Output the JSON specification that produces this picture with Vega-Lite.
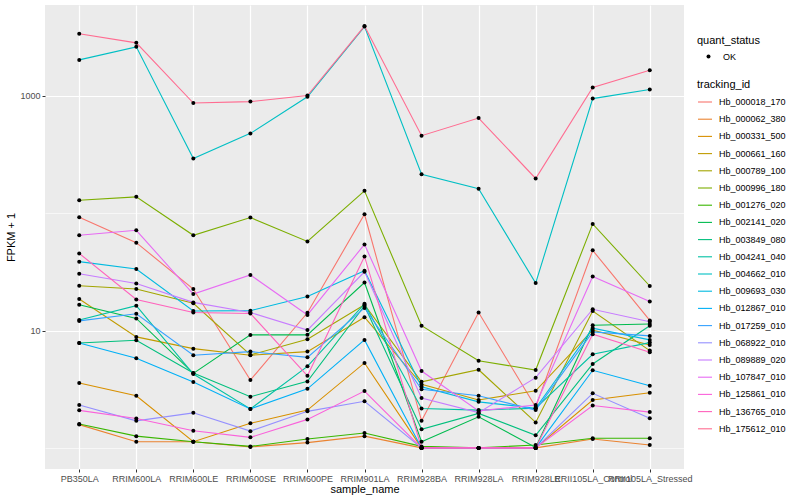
{
"$schema": "https://vega.github.io/schema/vega-lite/v6.json",
"width": 639, "height": 464,
"autosize": "none",
"padding": {"left": 45, "top": 5, "right": 116, "bottom": 31},
"background": "white",
"config": {
  "font": "Liberation Sans",
  "view": {"fill": "#EBEBEB", "stroke": null},
  "axis": {"domain": false, "grid": true, "gridColor": "#FFFFFF", "tickColor": "#333333", "tickSize": 3, "labelColor": "#4D4D4D", "labelFontSize": 9, "titleFontSize": 11, "titleFontWeight": "normal", "titleColor": "#000000", "labelPadding": 2},
  "legend": {"titleFontSize": 11, "titleFontWeight": "normal", "titleColor": "#000000", "labelFontSize": 9, "labelColor": "#000000"}
},
"data": {"values": [
{"tracking_id":"Hb_000018_170","sample_name":"PB350LA","fpkm_1":92.4,"quant_status":"OK"},
{"tracking_id":"Hb_000018_170","sample_name":"RRIM600LA","fpkm_1":56.2,"quant_status":"OK"},
{"tracking_id":"Hb_000018_170","sample_name":"RRIM600LE","fpkm_1":22.6,"quant_status":"OK"},
{"tracking_id":"Hb_000018_170","sample_name":"RRIM600SE","fpkm_1":3.79,"quant_status":"OK"},
{"tracking_id":"Hb_000018_170","sample_name":"RRIM600PE","fpkm_1":14.2,"quant_status":"OK"},
{"tracking_id":"Hb_000018_170","sample_name":"RRIM901LA","fpkm_1":98.1,"quant_status":"OK"},
{"tracking_id":"Hb_000018_170","sample_name":"RRIM928BA","fpkm_1":1.70,"quant_status":"OK"},
{"tracking_id":"Hb_000018_170","sample_name":"RRIM928LA","fpkm_1":14.25,"quant_status":"OK"},
{"tracking_id":"Hb_000018_170","sample_name":"RRIM928LE","fpkm_1":2.23,"quant_status":"OK"},
{"tracking_id":"Hb_000018_170","sample_name":"RRII105LA_Control","fpkm_1":48.3,"quant_status":"OK"},
{"tracking_id":"Hb_000018_170","sample_name":"RRII105LA_Stressed","fpkm_1":12.2,"quant_status":"OK"},
{"tracking_id":"Hb_000062_380","sample_name":"PB350LA","fpkm_1":1.58,"quant_status":"OK"},
{"tracking_id":"Hb_000062_380","sample_name":"RRIM600LA","fpkm_1":1.13,"quant_status":"OK"},
{"tracking_id":"Hb_000062_380","sample_name":"RRIM600LE","fpkm_1":1.13,"quant_status":"OK"},
{"tracking_id":"Hb_000062_380","sample_name":"RRIM600SE","fpkm_1":1.02,"quant_status":"OK"},
{"tracking_id":"Hb_000062_380","sample_name":"RRIM600PE","fpkm_1":1.11,"quant_status":"OK"},
{"tracking_id":"Hb_000062_380","sample_name":"RRIM901LA","fpkm_1":1.26,"quant_status":"OK"},
{"tracking_id":"Hb_000062_380","sample_name":"RRIM928BA","fpkm_1":1.0,"quant_status":"OK"},
{"tracking_id":"Hb_000062_380","sample_name":"RRIM928LA","fpkm_1":1.0,"quant_status":"OK"},
{"tracking_id":"Hb_000062_380","sample_name":"RRIM928LE","fpkm_1":1.0,"quant_status":"OK"},
{"tracking_id":"Hb_000062_380","sample_name":"RRII105LA_Control","fpkm_1":1.19,"quant_status":"OK"},
{"tracking_id":"Hb_000062_380","sample_name":"RRII105LA_Stressed","fpkm_1":1.06,"quant_status":"OK"},
{"tracking_id":"Hb_000331_500","sample_name":"PB350LA","fpkm_1":3.57,"quant_status":"OK"},
{"tracking_id":"Hb_000331_500","sample_name":"RRIM600LA","fpkm_1":2.78,"quant_status":"OK"},
{"tracking_id":"Hb_000331_500","sample_name":"RRIM600LE","fpkm_1":1.13,"quant_status":"OK"},
{"tracking_id":"Hb_000331_500","sample_name":"RRIM600SE","fpkm_1":1.62,"quant_status":"OK"},
{"tracking_id":"Hb_000331_500","sample_name":"RRIM600PE","fpkm_1":2.10,"quant_status":"OK"},
{"tracking_id":"Hb_000331_500","sample_name":"RRIM901LA","fpkm_1":5.30,"quant_status":"OK"},
{"tracking_id":"Hb_000331_500","sample_name":"RRIM928BA","fpkm_1":1.0,"quant_status":"OK"},
{"tracking_id":"Hb_000331_500","sample_name":"RRIM928LA","fpkm_1":1.0,"quant_status":"OK"},
{"tracking_id":"Hb_000331_500","sample_name":"RRIM928LE","fpkm_1":1.0,"quant_status":"OK"},
{"tracking_id":"Hb_000331_500","sample_name":"RRII105LA_Control","fpkm_1":2.56,"quant_status":"OK"},
{"tracking_id":"Hb_000331_500","sample_name":"RRII105LA_Stressed","fpkm_1":2.95,"quant_status":"OK"},
{"tracking_id":"Hb_000661_160","sample_name":"PB350LA","fpkm_1":18.6,"quant_status":"OK"},
{"tracking_id":"Hb_000661_160","sample_name":"RRIM600LA","fpkm_1":8.84,"quant_status":"OK"},
{"tracking_id":"Hb_000661_160","sample_name":"RRIM600LE","fpkm_1":7.02,"quant_status":"OK"},
{"tracking_id":"Hb_000661_160","sample_name":"RRIM600SE","fpkm_1":6.16,"quant_status":"OK"},
{"tracking_id":"Hb_000661_160","sample_name":"RRIM600PE","fpkm_1":6.62,"quant_status":"OK"},
{"tracking_id":"Hb_000661_160","sample_name":"RRIM901LA","fpkm_1":13.0,"quant_status":"OK"},
{"tracking_id":"Hb_000661_160","sample_name":"RRIM928BA","fpkm_1":3.48,"quant_status":"OK"},
{"tracking_id":"Hb_000661_160","sample_name":"RRIM928LA","fpkm_1":2.56,"quant_status":"OK"},
{"tracking_id":"Hb_000661_160","sample_name":"RRIM928LE","fpkm_1":3.07,"quant_status":"OK"},
{"tracking_id":"Hb_000661_160","sample_name":"RRII105LA_Control","fpkm_1":10.1,"quant_status":"OK"},
{"tracking_id":"Hb_000661_160","sample_name":"RRII105LA_Stressed","fpkm_1":7.55,"quant_status":"OK"},
{"tracking_id":"Hb_000789_100","sample_name":"PB350LA","fpkm_1":24.1,"quant_status":"OK"},
{"tracking_id":"Hb_000789_100","sample_name":"RRIM600LA","fpkm_1":22.6,"quant_status":"OK"},
{"tracking_id":"Hb_000789_100","sample_name":"RRIM600LE","fpkm_1":17.1,"quant_status":"OK"},
{"tracking_id":"Hb_000789_100","sample_name":"RRIM600SE","fpkm_1":6.20,"quant_status":"OK"},
{"tracking_id":"Hb_000789_100","sample_name":"RRIM600PE","fpkm_1":8.44,"quant_status":"OK"},
{"tracking_id":"Hb_000789_100","sample_name":"RRIM901LA","fpkm_1":16.6,"quant_status":"OK"},
{"tracking_id":"Hb_000789_100","sample_name":"RRIM928BA","fpkm_1":3.66,"quant_status":"OK"},
{"tracking_id":"Hb_000789_100","sample_name":"RRIM928LA","fpkm_1":4.64,"quant_status":"OK"},
{"tracking_id":"Hb_000789_100","sample_name":"RRIM928LE","fpkm_1":1.65,"quant_status":"OK"},
{"tracking_id":"Hb_000789_100","sample_name":"RRII105LA_Control","fpkm_1":14.7,"quant_status":"OK"},
{"tracking_id":"Hb_000789_100","sample_name":"RRII105LA_Stressed","fpkm_1":6.75,"quant_status":"OK"},
{"tracking_id":"Hb_000996_180","sample_name":"PB350LA","fpkm_1":129.2,"quant_status":"OK"},
{"tracking_id":"Hb_000996_180","sample_name":"RRIM600LA","fpkm_1":138.1,"quant_status":"OK"},
{"tracking_id":"Hb_000996_180","sample_name":"RRIM600LE","fpkm_1":64.9,"quant_status":"OK"},
{"tracking_id":"Hb_000996_180","sample_name":"RRIM600SE","fpkm_1":91.9,"quant_status":"OK"},
{"tracking_id":"Hb_000996_180","sample_name":"RRIM600PE","fpkm_1":57.6,"quant_status":"OK"},
{"tracking_id":"Hb_000996_180","sample_name":"RRIM901LA","fpkm_1":155.4,"quant_status":"OK"},
{"tracking_id":"Hb_000996_180","sample_name":"RRIM928BA","fpkm_1":11.0,"quant_status":"OK"},
{"tracking_id":"Hb_000996_180","sample_name":"RRIM928LA","fpkm_1":5.54,"quant_status":"OK"},
{"tracking_id":"Hb_000996_180","sample_name":"RRIM928LE","fpkm_1":4.61,"quant_status":"OK"},
{"tracking_id":"Hb_000996_180","sample_name":"RRII105LA_Control","fpkm_1":81.2,"quant_status":"OK"},
{"tracking_id":"Hb_000996_180","sample_name":"RRII105LA_Stressed","fpkm_1":24.0,"quant_status":"OK"},
{"tracking_id":"Hb_001276_020","sample_name":"PB350LA","fpkm_1":1.60,"quant_status":"OK"},
{"tracking_id":"Hb_001276_020","sample_name":"RRIM600LA","fpkm_1":1.26,"quant_status":"OK"},
{"tracking_id":"Hb_001276_020","sample_name":"RRIM600LE","fpkm_1":1.13,"quant_status":"OK"},
{"tracking_id":"Hb_001276_020","sample_name":"RRIM600SE","fpkm_1":1.03,"quant_status":"OK"},
{"tracking_id":"Hb_001276_020","sample_name":"RRIM600PE","fpkm_1":1.19,"quant_status":"OK"},
{"tracking_id":"Hb_001276_020","sample_name":"RRIM901LA","fpkm_1":1.34,"quant_status":"OK"},
{"tracking_id":"Hb_001276_020","sample_name":"RRIM928BA","fpkm_1":1.03,"quant_status":"OK"},
{"tracking_id":"Hb_001276_020","sample_name":"RRIM928LA","fpkm_1":1.0,"quant_status":"OK"},
{"tracking_id":"Hb_001276_020","sample_name":"RRIM928LE","fpkm_1":1.06,"quant_status":"OK"},
{"tracking_id":"Hb_001276_020","sample_name":"RRII105LA_Control","fpkm_1":1.21,"quant_status":"OK"},
{"tracking_id":"Hb_001276_020","sample_name":"RRII105LA_Stressed","fpkm_1":1.21,"quant_status":"OK"},
{"tracking_id":"Hb_002141_020","sample_name":"PB350LA","fpkm_1":16.6,"quant_status":"OK"},
{"tracking_id":"Hb_002141_020","sample_name":"RRIM600LA","fpkm_1":12.7,"quant_status":"OK"},
{"tracking_id":"Hb_002141_020","sample_name":"RRIM600LE","fpkm_1":4.32,"quant_status":"OK"},
{"tracking_id":"Hb_002141_020","sample_name":"RRIM600SE","fpkm_1":9.19,"quant_status":"OK"},
{"tracking_id":"Hb_002141_020","sample_name":"RRIM600PE","fpkm_1":9.2,"quant_status":"OK"},
{"tracking_id":"Hb_002141_020","sample_name":"RRIM901LA","fpkm_1":25.7,"quant_status":"OK"},
{"tracking_id":"Hb_002141_020","sample_name":"RRIM928BA","fpkm_1":1.13,"quant_status":"OK"},
{"tracking_id":"Hb_002141_020","sample_name":"RRIM928LA","fpkm_1":1.84,"quant_status":"OK"},
{"tracking_id":"Hb_002141_020","sample_name":"RRIM928LE","fpkm_1":1.01,"quant_status":"OK"},
{"tracking_id":"Hb_002141_020","sample_name":"RRII105LA_Control","fpkm_1":11.1,"quant_status":"OK"},
{"tracking_id":"Hb_002141_020","sample_name":"RRII105LA_Stressed","fpkm_1":11.4,"quant_status":"OK"},
{"tracking_id":"Hb_003849_080","sample_name":"PB350LA","fpkm_1":7.85,"quant_status":"OK"},
{"tracking_id":"Hb_003849_080","sample_name":"RRIM600LA","fpkm_1":8.28,"quant_status":"OK"},
{"tracking_id":"Hb_003849_080","sample_name":"RRIM600LE","fpkm_1":4.35,"quant_status":"OK"},
{"tracking_id":"Hb_003849_080","sample_name":"RRIM600SE","fpkm_1":2.73,"quant_status":"OK"},
{"tracking_id":"Hb_003849_080","sample_name":"RRIM600PE","fpkm_1":3.69,"quant_status":"OK"},
{"tracking_id":"Hb_003849_080","sample_name":"RRIM901LA","fpkm_1":16.3,"quant_status":"OK"},
{"tracking_id":"Hb_003849_080","sample_name":"RRIM928BA","fpkm_1":1.44,"quant_status":"OK"},
{"tracking_id":"Hb_003849_080","sample_name":"RRIM928LA","fpkm_1":1.97,"quant_status":"OK"},
{"tracking_id":"Hb_003849_080","sample_name":"RRIM928LE","fpkm_1":1.28,"quant_status":"OK"},
{"tracking_id":"Hb_003849_080","sample_name":"RRII105LA_Control","fpkm_1":5.19,"quant_status":"OK"},
{"tracking_id":"Hb_003849_080","sample_name":"RRII105LA_Stressed","fpkm_1":11.0,"quant_status":"OK"},
{"tracking_id":"Hb_004241_040","sample_name":"PB350LA","fpkm_1":12.3,"quant_status":"OK"},
{"tracking_id":"Hb_004241_040","sample_name":"RRIM600LA","fpkm_1":16.3,"quant_status":"OK"},
{"tracking_id":"Hb_004241_040","sample_name":"RRIM600LE","fpkm_1":4.26,"quant_status":"OK"},
{"tracking_id":"Hb_004241_040","sample_name":"RRIM600SE","fpkm_1":2.15,"quant_status":"OK"},
{"tracking_id":"Hb_004241_040","sample_name":"RRIM600PE","fpkm_1":4.96,"quant_status":"OK"},
{"tracking_id":"Hb_004241_040","sample_name":"RRIM901LA","fpkm_1":16.9,"quant_status":"OK"},
{"tracking_id":"Hb_004241_040","sample_name":"RRIM928BA","fpkm_1":2.17,"quant_status":"OK"},
{"tracking_id":"Hb_004241_040","sample_name":"RRIM928LA","fpkm_1":2.10,"quant_status":"OK"},
{"tracking_id":"Hb_004241_040","sample_name":"RRIM928LE","fpkm_1":2.18,"quant_status":"OK"},
{"tracking_id":"Hb_004241_040","sample_name":"RRII105LA_Control","fpkm_1":6.28,"quant_status":"OK"},
{"tracking_id":"Hb_004241_040","sample_name":"RRII105LA_Stressed","fpkm_1":7.90,"quant_status":"OK"},
{"tracking_id":"Hb_004662_010","sample_name":"PB350LA","fpkm_1":2031,"quant_status":"OK"},
{"tracking_id":"Hb_004662_010","sample_name":"RRIM600LA","fpkm_1":2623,"quant_status":"OK"},
{"tracking_id":"Hb_004662_010","sample_name":"RRIM600LE","fpkm_1":293,"quant_status":"OK"},
{"tracking_id":"Hb_004662_010","sample_name":"RRIM600SE","fpkm_1":480,"quant_status":"OK"},
{"tracking_id":"Hb_004662_010","sample_name":"RRIM600PE","fpkm_1":984,"quant_status":"OK"},
{"tracking_id":"Hb_004662_010","sample_name":"RRIM901LA","fpkm_1":3904,"quant_status":"OK"},
{"tracking_id":"Hb_004662_010","sample_name":"RRIM928BA","fpkm_1":215,"quant_status":"OK"},
{"tracking_id":"Hb_004662_010","sample_name":"RRIM928LA","fpkm_1":162,"quant_status":"OK"},
{"tracking_id":"Hb_004662_010","sample_name":"RRIM928LE","fpkm_1":25.4,"quant_status":"OK"},
{"tracking_id":"Hb_004662_010","sample_name":"RRII105LA_Control","fpkm_1":950,"quant_status":"OK"},
{"tracking_id":"Hb_004662_010","sample_name":"RRII105LA_Stressed","fpkm_1":1134,"quant_status":"OK"},
{"tracking_id":"Hb_009693_030","sample_name":"PB350LA","fpkm_1":38.7,"quant_status":"OK"},
{"tracking_id":"Hb_009693_030","sample_name":"RRIM600LA","fpkm_1":33.5,"quant_status":"OK"},
{"tracking_id":"Hb_009693_030","sample_name":"RRIM600LE","fpkm_1":14.7,"quant_status":"OK"},
{"tracking_id":"Hb_009693_030","sample_name":"RRIM600SE","fpkm_1":14.8,"quant_status":"OK"},
{"tracking_id":"Hb_009693_030","sample_name":"RRIM600PE","fpkm_1":19.5,"quant_status":"OK"},
{"tracking_id":"Hb_009693_030","sample_name":"RRIM901LA","fpkm_1":32.4,"quant_status":"OK"},
{"tracking_id":"Hb_009693_030","sample_name":"RRIM928BA","fpkm_1":3.32,"quant_status":"OK"},
{"tracking_id":"Hb_009693_030","sample_name":"RRIM928LA","fpkm_1":2.47,"quant_status":"OK"},
{"tracking_id":"Hb_009693_030","sample_name":"RRIM928LE","fpkm_1":2.18,"quant_status":"OK"},
{"tracking_id":"Hb_009693_030","sample_name":"RRII105LA_Control","fpkm_1":10.5,"quant_status":"OK"},
{"tracking_id":"Hb_009693_030","sample_name":"RRII105LA_Stressed","fpkm_1":8.33,"quant_status":"OK"},
{"tracking_id":"Hb_012867_010","sample_name":"PB350LA","fpkm_1":7.85,"quant_status":"OK"},
{"tracking_id":"Hb_012867_010","sample_name":"RRIM600LA","fpkm_1":5.81,"quant_status":"OK"},
{"tracking_id":"Hb_012867_010","sample_name":"RRIM600LE","fpkm_1":3.64,"quant_status":"OK"},
{"tracking_id":"Hb_012867_010","sample_name":"RRIM600SE","fpkm_1":2.15,"quant_status":"OK"},
{"tracking_id":"Hb_012867_010","sample_name":"RRIM600PE","fpkm_1":3.19,"quant_status":"OK"},
{"tracking_id":"Hb_012867_010","sample_name":"RRIM901LA","fpkm_1":8.33,"quant_status":"OK"},
{"tracking_id":"Hb_012867_010","sample_name":"RRIM928BA","fpkm_1":1.0,"quant_status":"OK"},
{"tracking_id":"Hb_012867_010","sample_name":"RRIM928LA","fpkm_1":1.0,"quant_status":"OK"},
{"tracking_id":"Hb_012867_010","sample_name":"RRIM928LE","fpkm_1":1.0,"quant_status":"OK"},
{"tracking_id":"Hb_012867_010","sample_name":"RRII105LA_Control","fpkm_1":4.59,"quant_status":"OK"},
{"tracking_id":"Hb_012867_010","sample_name":"RRII105LA_Stressed","fpkm_1":3.39,"quant_status":"OK"},
{"tracking_id":"Hb_017259_010","sample_name":"PB350LA","fpkm_1":12.1,"quant_status":"OK"},
{"tracking_id":"Hb_017259_010","sample_name":"RRIM600LA","fpkm_1":13.9,"quant_status":"OK"},
{"tracking_id":"Hb_017259_010","sample_name":"RRIM600LE","fpkm_1":6.16,"quant_status":"OK"},
{"tracking_id":"Hb_017259_010","sample_name":"RRIM600SE","fpkm_1":6.62,"quant_status":"OK"},
{"tracking_id":"Hb_017259_010","sample_name":"RRIM600PE","fpkm_1":5.92,"quant_status":"OK"},
{"tracking_id":"Hb_017259_010","sample_name":"RRIM901LA","fpkm_1":15.6,"quant_status":"OK"},
{"tracking_id":"Hb_017259_010","sample_name":"RRIM928BA","fpkm_1":3.16,"quant_status":"OK"},
{"tracking_id":"Hb_017259_010","sample_name":"RRIM928LA","fpkm_1":2.78,"quant_status":"OK"},
{"tracking_id":"Hb_017259_010","sample_name":"RRIM928LE","fpkm_1":2.10,"quant_status":"OK"},
{"tracking_id":"Hb_017259_010","sample_name":"RRII105LA_Control","fpkm_1":9.75,"quant_status":"OK"},
{"tracking_id":"Hb_017259_010","sample_name":"RRII105LA_Stressed","fpkm_1":9.01,"quant_status":"OK"},
{"tracking_id":"Hb_068922_010","sample_name":"PB350LA","fpkm_1":2.32,"quant_status":"OK"},
{"tracking_id":"Hb_068922_010","sample_name":"RRIM600LA","fpkm_1":1.70,"quant_status":"OK"},
{"tracking_id":"Hb_068922_010","sample_name":"RRIM600LE","fpkm_1":1.99,"quant_status":"OK"},
{"tracking_id":"Hb_068922_010","sample_name":"RRIM600SE","fpkm_1":1.39,"quant_status":"OK"},
{"tracking_id":"Hb_068922_010","sample_name":"RRIM600PE","fpkm_1":2.05,"quant_status":"OK"},
{"tracking_id":"Hb_068922_010","sample_name":"RRIM901LA","fpkm_1":2.5,"quant_status":"OK"},
{"tracking_id":"Hb_068922_010","sample_name":"RRIM928BA","fpkm_1":1.0,"quant_status":"OK"},
{"tracking_id":"Hb_068922_010","sample_name":"RRIM928LA","fpkm_1":1.0,"quant_status":"OK"},
{"tracking_id":"Hb_068922_010","sample_name":"RRIM928LE","fpkm_1":1.0,"quant_status":"OK"},
{"tracking_id":"Hb_068922_010","sample_name":"RRII105LA_Control","fpkm_1":2.92,"quant_status":"OK"},
{"tracking_id":"Hb_068922_010","sample_name":"RRII105LA_Stressed","fpkm_1":1.79,"quant_status":"OK"},
{"tracking_id":"Hb_089889_020","sample_name":"PB350LA","fpkm_1":30.5,"quant_status":"OK"},
{"tracking_id":"Hb_089889_020","sample_name":"RRIM600LA","fpkm_1":25.2,"quant_status":"OK"},
{"tracking_id":"Hb_089889_020","sample_name":"RRIM600LE","fpkm_1":17.4,"quant_status":"OK"},
{"tracking_id":"Hb_089889_020","sample_name":"RRIM600SE","fpkm_1":14.25,"quant_status":"OK"},
{"tracking_id":"Hb_089889_020","sample_name":"RRIM600PE","fpkm_1":10.1,"quant_status":"OK"},
{"tracking_id":"Hb_089889_020","sample_name":"RRIM901LA","fpkm_1":31.7,"quant_status":"OK"},
{"tracking_id":"Hb_089889_020","sample_name":"RRIM928BA","fpkm_1":2.66,"quant_status":"OK"},
{"tracking_id":"Hb_089889_020","sample_name":"RRIM928LA","fpkm_1":2.0,"quant_status":"OK"},
{"tracking_id":"Hb_089889_020","sample_name":"RRIM928LE","fpkm_1":3.97,"quant_status":"OK"},
{"tracking_id":"Hb_089889_020","sample_name":"RRII105LA_Control","fpkm_1":15.2,"quant_status":"OK"},
{"tracking_id":"Hb_089889_020","sample_name":"RRII105LA_Stressed","fpkm_1":11.9,"quant_status":"OK"},
{"tracking_id":"Hb_107847_010","sample_name":"PB350LA","fpkm_1":64.9,"quant_status":"OK"},
{"tracking_id":"Hb_107847_010","sample_name":"RRIM600LA","fpkm_1":71.6,"quant_status":"OK"},
{"tracking_id":"Hb_107847_010","sample_name":"RRIM600LE","fpkm_1":20.5,"quant_status":"OK"},
{"tracking_id":"Hb_107847_010","sample_name":"RRIM600SE","fpkm_1":29.8,"quant_status":"OK"},
{"tracking_id":"Hb_107847_010","sample_name":"RRIM600PE","fpkm_1":13.6,"quant_status":"OK"},
{"tracking_id":"Hb_107847_010","sample_name":"RRIM901LA","fpkm_1":54.3,"quant_status":"OK"},
{"tracking_id":"Hb_107847_010","sample_name":"RRIM928BA","fpkm_1":4.52,"quant_status":"OK"},
{"tracking_id":"Hb_107847_010","sample_name":"RRIM928LA","fpkm_1":2.07,"quant_status":"OK"},
{"tracking_id":"Hb_107847_010","sample_name":"RRIM928LE","fpkm_1":2.32,"quant_status":"OK"},
{"tracking_id":"Hb_107847_010","sample_name":"RRII105LA_Control","fpkm_1":28.9,"quant_status":"OK"},
{"tracking_id":"Hb_107847_010","sample_name":"RRII105LA_Stressed","fpkm_1":17.7,"quant_status":"OK"},
{"tracking_id":"Hb_125861_010","sample_name":"PB350LA","fpkm_1":2.09,"quant_status":"OK"},
{"tracking_id":"Hb_125861_010","sample_name":"RRIM600LA","fpkm_1":1.78,"quant_status":"OK"},
{"tracking_id":"Hb_125861_010","sample_name":"RRIM600LE","fpkm_1":1.40,"quant_status":"OK"},
{"tracking_id":"Hb_125861_010","sample_name":"RRIM600SE","fpkm_1":1.23,"quant_status":"OK"},
{"tracking_id":"Hb_125861_010","sample_name":"RRIM600PE","fpkm_1":1.75,"quant_status":"OK"},
{"tracking_id":"Hb_125861_010","sample_name":"RRIM901LA","fpkm_1":3.05,"quant_status":"OK"},
{"tracking_id":"Hb_125861_010","sample_name":"RRIM928BA","fpkm_1":1.0,"quant_status":"OK"},
{"tracking_id":"Hb_125861_010","sample_name":"RRIM928LA","fpkm_1":1.0,"quant_status":"OK"},
{"tracking_id":"Hb_125861_010","sample_name":"RRIM928LE","fpkm_1":1.0,"quant_status":"OK"},
{"tracking_id":"Hb_125861_010","sample_name":"RRII105LA_Control","fpkm_1":2.30,"quant_status":"OK"},
{"tracking_id":"Hb_125861_010","sample_name":"RRII105LA_Stressed","fpkm_1":2.02,"quant_status":"OK"},
{"tracking_id":"Hb_136765_010","sample_name":"PB350LA","fpkm_1":45.5,"quant_status":"OK"},
{"tracking_id":"Hb_136765_010","sample_name":"RRIM600LA","fpkm_1":18.4,"quant_status":"OK"},
{"tracking_id":"Hb_136765_010","sample_name":"RRIM600LE","fpkm_1":14.25,"quant_status":"OK"},
{"tracking_id":"Hb_136765_010","sample_name":"RRIM600SE","fpkm_1":14.0,"quant_status":"OK"},
{"tracking_id":"Hb_136765_010","sample_name":"RRIM600PE","fpkm_1":4.12,"quant_status":"OK"},
{"tracking_id":"Hb_136765_010","sample_name":"RRIM901LA","fpkm_1":42.9,"quant_status":"OK"},
{"tracking_id":"Hb_136765_010","sample_name":"RRIM928BA","fpkm_1":1.0,"quant_status":"OK"},
{"tracking_id":"Hb_136765_010","sample_name":"RRIM928LA","fpkm_1":1.0,"quant_status":"OK"},
{"tracking_id":"Hb_136765_010","sample_name":"RRIM928LE","fpkm_1":1.0,"quant_status":"OK"},
{"tracking_id":"Hb_136765_010","sample_name":"RRII105LA_Control","fpkm_1":9.32,"quant_status":"OK"},
{"tracking_id":"Hb_136765_010","sample_name":"RRII105LA_Stressed","fpkm_1":6.54,"quant_status":"OK"},
{"tracking_id":"Hb_175612_010","sample_name":"PB350LA","fpkm_1":3388,"quant_status":"OK"},
{"tracking_id":"Hb_175612_010","sample_name":"RRIM600LA","fpkm_1":2838,"quant_status":"OK"},
{"tracking_id":"Hb_175612_010","sample_name":"RRIM600LE","fpkm_1":871,"quant_status":"OK"},
{"tracking_id":"Hb_175612_010","sample_name":"RRIM600SE","fpkm_1":896,"quant_status":"OK"},
{"tracking_id":"Hb_175612_010","sample_name":"RRIM600PE","fpkm_1":1008,"quant_status":"OK"},
{"tracking_id":"Hb_175612_010","sample_name":"RRIM901LA","fpkm_1":3942,"quant_status":"OK"},
{"tracking_id":"Hb_175612_010","sample_name":"RRIM928BA","fpkm_1":459,"quant_status":"OK"},
{"tracking_id":"Hb_175612_010","sample_name":"RRIM928LA","fpkm_1":649,"quant_status":"OK"},
{"tracking_id":"Hb_175612_010","sample_name":"RRIM928LE","fpkm_1":198,"quant_status":"OK"},
{"tracking_id":"Hb_175612_010","sample_name":"RRII105LA_Control","fpkm_1":1180,"quant_status":"OK"},
{"tracking_id":"Hb_175612_010","sample_name":"RRII105LA_Stressed","fpkm_1":1658,"quant_status":"OK"}
]},
"encoding": {
  "x": {"field": "sample_name", "type": "nominal",
        "sort": ["PB350LA","RRIM600LA","RRIM600LE","RRIM600SE","RRIM600PE","RRIM901LA","RRIM928BA","RRIM928LA","RRIM928LE","RRII105LA_Control","RRII105LA_Stressed"],
        "scale": {"type": "point", "padding": 0.6},
        "axis": {"labelAngle": 0, "labelOverlap": false, "title": "sample_name", "gridWidth": 1.2, "titlePadding": 0}},
  "y": {"field": "fpkm_1", "type": "quantitative",
        "scale": {"type": "log", "domain": [0.661, 5965], "nice": false},
        "axis": {"title": "FPKM + 1", "values": [1, 10, 100, 1000],
                 "labelExpr": "datum.value === 10 ? '10' : (datum.value === 1000 ? '1000' : '')",
                 "gridWidth": {"condition": {"test": "datum.value === 1 || datum.value === 100", "value": 0.6}, "value": 1.2},
                 "tickOpacity": {"condition": {"test": "datum.value === 10 || datum.value === 1000", "value": 1}, "value": 0},
                 "titlePadding": 3}}
},
"layer": [
  {"mark": {"type": "line", "strokeWidth": 1.1},
   "encoding": {"color": {"field": "tracking_id", "type": "nominal",
      "scale": {"domain": ["Hb_000018_170","Hb_000062_380","Hb_000331_500","Hb_000661_160","Hb_000789_100","Hb_000996_180","Hb_001276_020","Hb_002141_020","Hb_003849_080","Hb_004241_040","Hb_004662_010","Hb_009693_030","Hb_012867_010","Hb_017259_010","Hb_068922_010","Hb_089889_020","Hb_107847_010","Hb_125861_010","Hb_136765_010","Hb_175612_010"],
                "range": ["#F8766D","#EA8331","#D89000","#C09B00","#A3A500","#7CAE00","#39B600","#00BB4E","#00BF7D","#00C1A3","#00BFC4","#00BAE0","#00B0F6","#35A2FF","#9590FF","#C77CFF","#E76BF3","#FA62DB","#FF62BC","#FF6C91"]},
      "legend": {"title": "tracking_id", "orient": "none", "legendX": 652, "legendY": 74, "symbolType": "stroke", "symbolSize": 196, "symbolStrokeWidth": 1.1, "rowPadding": 4.2, "symbolOffset": 0, "labelOffset": 6, "titlePadding": 4}}}},
  {"mark": {"type": "point", "filled": true, "size": 16, "opacity": 1, "color": "black"},
   "encoding": {"shape": {"field": "quant_status", "type": "nominal",
      "scale": {"domain": ["OK"], "range": ["circle"]},
      "legend": {"title": "quant_status", "orient": "none", "legendX": 652, "legendY": 30, "symbolSize": 16, "symbolFillColor": "black", "symbolStrokeColor": "black", "symbolOffset": 7, "labelOffset": 10, "titlePadding": 6}}}}
]
}
